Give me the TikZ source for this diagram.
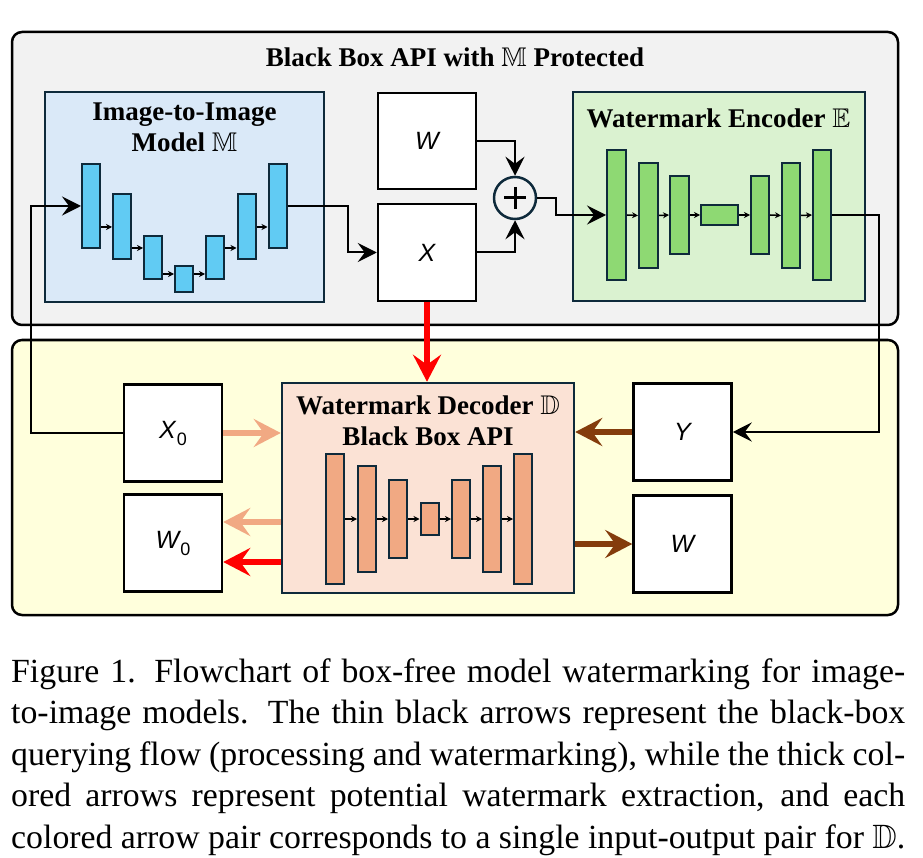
\documentclass[tikz,border=0pt]{standalone}
\usepackage{amssymb}
\usepackage{fontspec}
\setmainfont{Liberation Serif}
\newfontfamily\varfont{Liberation Sans}
\usetikzlibrary{arrows.meta, positioning}

\definecolor{apigray}{HTML}{F2F2F2}
\definecolor{queryyellow}{HTML}{FFFFDC}
\definecolor{edgedark}{HTML}{0E2A3B}
\definecolor{modelfill}{HTML}{DAE9F8}
\definecolor{modelbar}{HTML}{61CBF3}
\definecolor{encfill}{HTML}{DAF2D0}
\definecolor{encbar}{HTML}{8ED973}
\definecolor{decfill}{HTML}{FBE2D5}
\definecolor{decbar}{HTML}{F1A983}
\definecolor{pairbrown}{HTML}{843C0C}

\begin{document}
\begin{tikzpicture}[x=1pt, y=-1pt,
		panel/.style={draw=black, line width=2.5pt, rounded corners=10pt, inner sep=0pt},
		netbox/.style={draw=edgedark, line width=2.5pt, inner sep=0pt},
		databox/.style={draw=black, line width=2.5pt, fill=white, inner sep=0pt, minimum width=98pt, minimum height=97pt, font=\varfont\itshape\fontsize{25}{25}\selectfont},
		layer/.style={draw=edgedark, line width=2pt, inner sep=0pt, minimum width=18pt},
		boxtitle/.style={font=\bfseries\fontsize{27}{31}\selectfont, align=center, inner sep=0pt},
		query/.style={-{Stealth[length=19pt, width=19pt, inset=7pt]}, line width=2pt},
		extract/.style={-{Stealth[length=27pt, width=28pt, inset=10pt]}, line width=5.5pt},
		hop/.style={-{Stealth[length=6pt, width=6pt]}, line width=1.5pt}]
	\useasboundingbox (0,0) rectangle (923,858);
	
	% Panels
	\node[panel, fill=apigray, minimum width=886pt, minimum height=293pt] (api) at (455,178.5) {};
	\node[panel, fill=queryyellow, minimum width=886pt, minimum height=275pt] (query) at (455,477.5) {};
	\node[boxtitle] (apititle) at (455,57) {Black Box API with $\mathbb{M}$ Protected};
	
	% Image-to-image model
	\node[netbox, fill=modelfill, minimum width=279pt, minimum height=210pt] (model) at (184.5,197) {};
	\node[boxtitle] (modeltitle) at (184.5,127) {Image-to-Image\\Model $\mathbb{M}$};
	\foreach \n/\cx/\t/\b in {1/91/164/248, 2/122/194/259, 3/153/236/279, 4/184/266/292, 5/215/236/279, 6/246.5/194/259, 7/277.5/164/248}
		\node[layer, fill=modelbar, minimum height={(\b-\t)*1pt}] (m\n) at (\cx,{(\t+\b)/2}) {};
	\foreach \i/\j/\yy in {1/2/227, 2/3/248, 3/4/274, 4/5/274, 5/6/248, 6/7/227}
		\draw[hop] (m\i.east |- 0,\yy) -- (m\j.west |- 0,\yy);
	
	% Watermark and image
	\node[databox, minimum height=96pt] (wm) at (427,141) {W};
	\node[databox] (img) at (427,252.5) {X};
	\node[circle, draw=edgedark, line width=2.5pt, minimum size=42pt, inner sep=0pt] (plus) at (515,198) {};
	\draw[line width=3pt] (plus.center) +(-11,0) -- +(11,0);
	\draw[line width=3pt] (plus.center) +(0,-11) -- +(0,11);
	
	% Watermark encoder
	\node[netbox, fill=encfill, minimum width=292pt, minimum height=209pt] (encoder) at (719,196.5) {};
	\node[boxtitle] (enctitle) at (718.5,118) {Watermark Encoder $\mathbb{E}$};
	\foreach \n/\cx/\t/\b/\w in {1/616.5/150/280/19, 2/648.5/163/268/19, 3/679.5/176/254/19, 4/719.5/205/225/37, 5/760/176/254/18, 6/791/163/268/18, 7/822/150/280/18}
		\node[layer, fill=encbar, minimum width=\w pt, minimum height={(\b-\t)*1pt}] (e\n) at (\cx,{(\t+\b)/2}) {};
	\foreach \i/\j in {1/2, 2/3, 3/4, 4/5, 5/6, 6/7}
		\draw[hop] (e\i.east) -- (e\j.west);
	
	% Watermark decoder
	\node[netbox, fill=decfill, minimum width=292pt, minimum height=210pt] (decoder) at (428,488) {};
	\node[boxtitle] (dectitle) at (428,421) {Watermark Decoder $\mathbb{D}$\\Black Box API};
	\foreach \n/\cx/\t/\b in {1/334.5/454/584, 2/367/466/572, 3/398/480/558, 4/429.5/503/535, 5/461/480/558, 6/492/466/572, 7/523/454/584}
		\node[layer, fill=decbar, minimum height={(\b-\t)*1pt}] (d\n) at (\cx,{(\t+\b)/2}) {};
	\foreach \i/\j in {1/2, 2/3, 3/4, 4/5, 5/6, 6/7}
		\draw[hop] (d\i.east) -- (d\j.west);
	
	% Query inputs and outputs
	\node[databox] (x0) at (173,433) {X\kern1pt\raisebox{-7pt}{\upshape\fontsize{18}{18}\selectfont 0}};
	\node[databox] (w0) at (173,543) {W\kern1pt\raisebox{-7pt}{\upshape\fontsize{18}{18}\selectfont 0}};
	\node[databox] (y) at (682.5,432) {Y};
	\node[databox] (wout) at (682.5,544) {W};
	
	% Black-box querying flow
	\draw[query] (x0.west) -- ++(-92,0) |- (m1.west);
	\draw[query] (m7.east) -- ++(60,0) |- (img.west);
	\draw[query] (wm.east) -| (plus.north);
	\draw[query] (img.east) -| (plus.south);
	\draw[query] (plus.east) -- ++(19,0) |- (e1.west);
	\draw[query] (e7.east) -- ++(47,0) |- (y.east);
	
	% Extraction pairs
	\draw[extract, red] (img.south) -- (img.south |- decoder.north);
	\draw[extract, decbar] (x0.east) -- (x0.east -| decoder.west);
	\draw[extract, decbar] (decoder.west |- 0,522) -- (w0.east |- 0,522);
	\draw[extract, red] (decoder.west |- 0,562) -- (w0.east |- 0,562);
	\draw[extract, pairbrown] (y.west) -- (y.west -| decoder.east);
	\draw[extract, pairbrown] (decoder.east |- wout.west) -- (wout.west);
	
	% Caption
	\node[anchor=north west, inner sep=0pt, text width=894pt, align=justify, font=\fontsize{33.8}{41.5}\selectfont] (caption) at (11,658) {Figure 1. Flowchart of box-free model watermarking for image-\linebreak to-image models. The thin black arrows represent the black-box\linebreak querying flow (processing and watermarking), while the thick col-\linebreak ored arrows represent potential watermark extraction, and each\linebreak colored arrow pair corresponds to a single input-output pair for $\mathbb{D}$.};
\end{tikzpicture}
\end{document}
